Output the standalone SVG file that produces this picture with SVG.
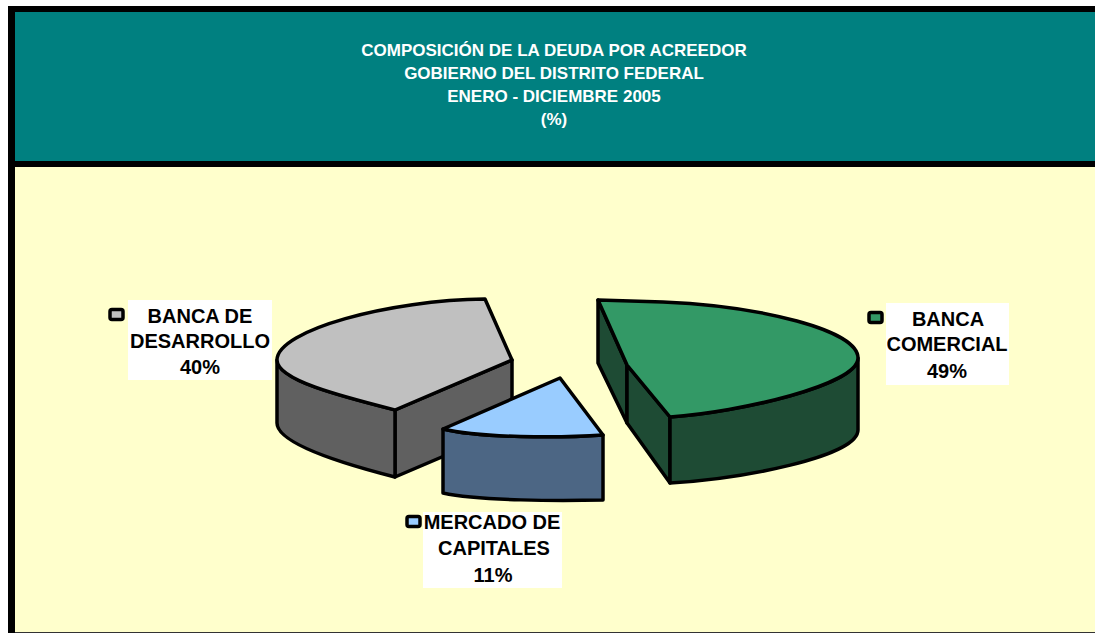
<svg xmlns="http://www.w3.org/2000/svg" width="1095" height="634" viewBox="0 0 1095 634">
<style>
.t{font-family:"Liberation Sans",Arial,sans-serif;font-weight:bold;fill:#fff;font-size:17px;text-anchor:middle}
.l{font-family:"Liberation Sans",Arial,sans-serif;font-weight:bold;fill:#000;font-size:20px;text-anchor:middle}
.e{stroke:#000;stroke-width:3.5;stroke-linejoin:round}
.k{stroke:#000;stroke-width:3.5}
</style>
<rect x="0" y="0" width="1095" height="634" fill="#fff"/>
<g id="frame">
<rect x="8" y="6" width="1087" height="627" fill="#000"/>
<rect x="15" y="12" width="1080" height="149" fill="#008080"/>
<rect x="15" y="167" width="1080" height="465" fill="#FFFFCC"/>
<line x1="15" y1="632.5" x2="1095" y2="632.5" stroke="#333" stroke-width="1"/>
</g>
<g id="title">
<text class="t" x="554" y="56">COMPOSICIÓN DE LA DEUDA POR ACREEDOR</text>
<text class="t" x="554" y="79">GOBIERNO DEL DISTRITO FEDERAL</text>
<text class="t" x="554" y="102">ENERO - DICIEMBRE 2005</text>
<text class="t" x="554" y="125">(%)</text>
</g>
<g id="slice-banca-desarrollo">
<path class="e" fill="#606060" d="M395,410 L512,360 L512,427 L395,477 Z"/>
<path class="e" fill="#606060" d="M277,360 C277,380 340,396 395,410 L395,477 C340,463 277,443 277,423 Z"/>
<path class="e" fill="#C0C0C0" d="M485,299 L512,360 L395,410 C340,396 277,380 277,360 C277,330 390,300 485,299 Z"/>
</g>
<g id="slice-mercado-capitales">
<path class="e" fill="#4C6684" d="M443,429 C480,438 560,438 603,435 L603,500 C560,501 480,501 443,493 Z"/>
<path class="e" fill="#99CCFF" d="M560,378 L603,435 C560,438 480,438 443,429 Z"/>
</g>
<g id="slice-banca-comercial">
<path class="e" fill="#1E4B34" d="M598,300 L627,365 L627,423 L598,363 Z"/>
<path class="e" fill="#1E4B34" d="M627,365 L670,417 L670,483 L627,423 Z"/>
<path class="e" fill="#1E4B34" d="M670,417 C740,412 858,385 858,358 L858,430 C858,457 740,479 670,483 Z"/>
<path class="e" fill="#339966" d="M598,300 L663,302 C760,306 858,330 858,358 C858,385 740,412 670,417 L627,365 Z"/>
</g>
<g id="label-banca-desarrollo">
<rect x="128" y="300" width="144" height="80" fill="#fff"/>
<rect class="k" x="110" y="309.5" width="13" height="10" rx="2" fill="#C0C0C0"/>
<text class="l" x="200" y="323">BANCA DE</text>
<text class="l" x="200" y="348">DESARROLLO</text>
<text class="l" x="200" y="374">40%</text>
</g>
<g id="label-banca-comercial">
<rect x="886" y="303" width="123" height="82" fill="#fff"/>
<rect class="k" x="869" y="312.5" width="13" height="10" rx="2" fill="#339966"/>
<text class="l" x="948" y="326">BANCA</text>
<text class="l" x="947" y="351">COMERCIAL</text>
<text class="l" x="947" y="378">49%</text>
</g>
<g id="label-mercado-capitales">
<rect x="423" y="512" width="139" height="76" fill="#fff"/>
<rect class="k" x="407" y="516.5" width="13" height="10" rx="2" fill="#99CCFF"/>
<text class="l" x="492" y="529">MERCADO DE</text>
<text class="l" x="494" y="555">CAPITALES</text>
<text class="l" x="493" y="582">11%</text>
</g>
</svg>
